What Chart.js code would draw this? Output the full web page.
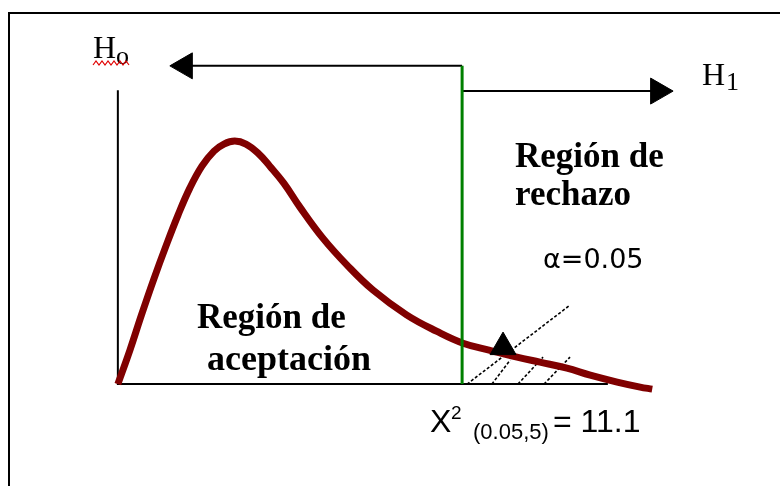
<!DOCTYPE html>
<html>
<head>
<meta charset="utf-8">
<script src="https://cdn.jsdelivr.net/npm/chart.js@4.4.1/dist/chart.umd.min.js"></script>
<style>
  html, body { margin: 0; padding: 0; background: #fff; }
  #wrap { position: relative; width: 780px; height: 486px; overflow: hidden; }
  #frame { position: absolute; left: 8px; top: 12px; right: -4px; bottom: -4px;
           border-top: 2px solid #000; border-left: 2px solid #000; }
  #chi { position: absolute; left: 0; top: 0; }
</style>
</head>
<body>
<div id="wrap">
  <div id="frame"></div>
  <canvas id="chi" width="780" height="486"></canvas>
</div>
<script>
// chi-square density, 5 d.f.
var curveX = [0, 0.39, 0.77, 1.16, 1.55, 1.94, 2.32, 2.71, 3.10, 3.42, 3.77, 4.13, 4.52, 4.90,
              5.35, 5.87, 6.61, 7.39, 8.23, 9.32, 10.29, 11.13, 12.0, 12.87, 13.61, 14.48, 15.23,
              16.10, 16.84, 17.23];
var curveY = [0, 0.0217, 0.0446, 0.0670, 0.0880, 0.1078, 0.1250, 0.1390, 0.1486, 0.1531, 0.1550,
              0.1531, 0.1473, 0.1390, 0.1282, 0.1129, 0.0931, 0.0759, 0.0599, 0.0440, 0.0336,
              0.0261, 0.0215, 0.0172, 0.0140, 0.0102, 0.0057, 0.0013, -0.0019, -0.0032];

var critical = 11.1;      // X2(0.05,5)
var axisEnd = 15.8;
var axisTop = 0.1875;

// hatch lines of the rejection region (first one is the pointer from alpha)
var hatchX0 = [11.26, 12.06, 12.90, 13.74];
var hatchX1 = [14.58, 12.65, 13.71, 14.58];
var hatchY1 = [0.0504, 0.0153, 0.0172, 0.0172];

// H0 / H1 arrows
var h0ArrowY = 0.203, h0ArrowX = 2.16;
var h1ArrowY = 0.1869, h1ArrowX = 17.42;
var pointerX = 12.42, pointerY = 0.0236;

function pts(xs, ys) {
  return xs.map(function (x, i) { return { x: x, y: ys[i] }; });
}

var datasets = [
  { // small pointer head
    data: [{ x: pointerX, y: pointerY }],
    showLine: false, pointStyle: 'triangle', pointRadius: 15, pointRotation: 0,
    pointBackgroundColor: '#000', pointBorderColor: '#000', pointBorderWidth: 1
  },
  { // critical value
    data: [{ x: critical, y: 0 }, { x: critical, y: h0ArrowY }],
    borderColor: '#008000', borderWidth: 3, pointRadius: 0
  },
  { // density curve
    data: pts(curveX, curveY),
    borderColor: '#800000', borderWidth: 7, pointRadius: 0, tension: 0.4
  }
];

hatchX0.forEach(function (x0, i) {
  datasets.push({
    data: [{ x: x0, y: 0 }, { x: hatchX1[i], y: hatchY1[i] }],
    borderColor: '#000', borderWidth: 1.6, borderDash: [3, 2], pointRadius: 0
  });
});

datasets.push({ // axes
  data: [{ x: 0, y: axisTop }, { x: 0, y: 0 }, { x: axisEnd, y: 0 }],
  borderColor: '#000', borderWidth: 2, pointRadius: 0
});
datasets.push({ // H0 arrow
  data: [{ x: critical, y: h0ArrowY }, { x: h0ArrowX, y: h0ArrowY }],
  borderColor: '#000', borderWidth: 2,
  pointStyle: 'triangle', pointRadius: [0, 15], pointRotation: -90,
  pointBackgroundColor: '#000', pointBorderColor: '#000', pointBorderWidth: 1
});
datasets.push({ // H1 arrow
  data: [{ x: critical, y: h1ArrowY }, { x: h1ArrowX, y: h1ArrowY }],
  borderColor: '#000', borderWidth: 2,
  pointStyle: 'triangle', pointRadius: [0, 15], pointRotation: 90,
  pointBackgroundColor: '#000', pointBorderColor: '#000', pointBorderWidth: 1
});

var notes = {
  id: 'notes',
  afterDatasetsDraw: function (chart) {
    var ctx = chart.ctx;
    ctx.save();
    ctx.fillStyle = '#000';
    ctx.textBaseline = 'alphabetic';

    ctx.font = 'bold 35px "Liberation Serif"';
    ctx.fillText('Región de', 515, 167);
    ctx.fillText('rechazo', 515, 205);
    ctx.fillText('Región de', 197, 328);
    ctx.font = 'bold 36px "Liberation Serif"';
    ctx.fillText('aceptación', 207, 370);

    ctx.font = '32px "Liberation Serif"';
    ctx.fillText('H', 93, 58);
    ctx.fillText('H', 702, 85);
    ctx.font = '26px "Liberation Serif"';
    ctx.fillText('o', 116, 64);
    ctx.fillText('1', 726, 90);

    // spell-check squiggle under Ho
    ctx.strokeStyle = '#e00000';
    ctx.lineWidth = 1.2;
    ctx.beginPath();
    for (var sx = 93, k = 0; sx <= 131; sx += 3, k++) {
      var sy = k % 2 ? 61 : 65;
      if (k === 0) ctx.moveTo(sx, sy); else ctx.lineTo(sx, sy);
    }
    ctx.stroke();

    ctx.font = '27px "DejaVu Sans"';
    ctx.fillText('\u03b1=0.05', 543, 268);

    ctx.font = '32px "Liberation Sans"';
    ctx.fillText('X', 430, 432);
    ctx.fillText('= 11.1', 553, 432);
    ctx.font = '19px "Liberation Sans"';
    ctx.fillText('2', 451, 419);
    ctx.font = '22px "Liberation Sans"';
    ctx.fillText('(0.05,5)', 473, 439);
    ctx.restore();
  }
};

new Chart(document.getElementById('chi'), {
  type: 'scatter',
  data: { datasets: datasets },
  options: {
    responsive: false,
    animation: false,
    layout: { padding: 0, autoPadding: false },
    plugins: { legend: { display: false }, tooltip: { enabled: false } },
    datasets: { scatter: { showLine: true, clip: false } },
    scales: {
      x: { type: 'linear', display: false, min: -3.8, max: 21.35 },
      y: { type: 'linear', display: false, min: -0.065, max: 0.245 }
    }
  },
  plugins: [notes]
});
</script>
</body>
</html>
